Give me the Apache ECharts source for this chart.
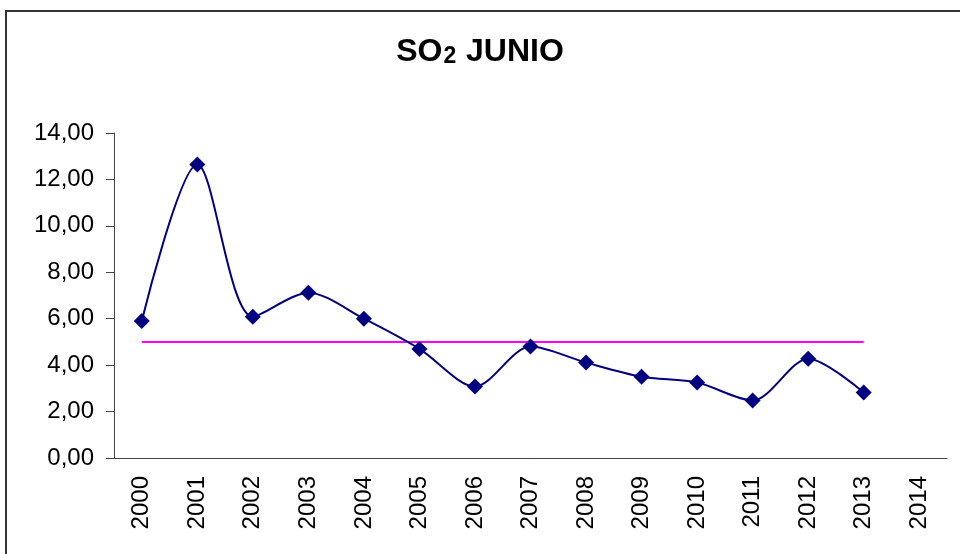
<!DOCTYPE html>
<html>
<head>
<meta charset="utf-8">
<script src="https://cdn.jsdelivr.net/npm/echarts@6/dist/echarts.min.js"></script>
<style>
  html, body { margin: 0; padding: 0; background: #fff; }
  #chart { width: 960px; height: 554px; }
</style>
</head>
<body>
<div id="chart"></div>
<script>
// años (eje X)
const years = ['2000', '2001', '2002', '2003', '2004', '2005', '2006', '2007',
  '2008', '2009', '2010', '2011', '2012', '2013', '2014'];
// SO2 junio
const so2 = [5.90, 12.64, 6.09, 7.12, 6.00, 4.70, 3.08, 4.80, 4.11, 3.50, 3.25, 2.48, 4.28, 2.82, null];
// línea de referencia
const limite = [5, 5, 5, 5, 5, 5, 5, 5, 5, 5, 5, 5, 5, 5, null];
// eje Y
const yMin = 0, yMax = 14, yStep = 2;

const font = '"Liberation Sans", Arial, sans-serif';
const chart = echarts.init(document.getElementById('chart'));

const option = {
  backgroundColor: '#fff',
  animation: false,
  title: {
    text: 'SO{sub|2} JUNIO',
    left: 'center',
    top: 31,
    textStyle: {
      fontFamily: font,
      fontSize: 32,
      fontWeight: 'bold',
      color: '#000',
      rich: {
        sub: { fontFamily: font, fontSize: 23, fontWeight: 'bold', color: '#000', verticalAlign: 'bottom', padding: [0, 1, 0, 1] }
      }
    }
  },
  graphic: [{
    type: 'rect',
    shape: { x: 6, y: 11, width: 1000, height: 600 },
    style: { fill: 'none', stroke: '#333', lineWidth: 2 },
    silent: true
  }],
  grid: { left: 114, right: 13, top: 133, bottom: 96 },
  xAxis: {
    type: 'category',
    data: years,
    boundaryGap: true,
    axisLine: { lineStyle: { color: '#444', width: 1 } },
    axisTick: { length: 8, lineStyle: { color: '#444' } },
    axisLabel: { rotate: 90, margin: 18, fontFamily: font, fontSize: 24, color: '#000' },
    splitLine: { show: false }
  },
  yAxis: {
    type: 'value',
    min: yMin,
    max: yMax,
    interval: yStep,
    axisLine: { show: true, lineStyle: { color: '#444', width: 1 } },
    axisTick: { show: true, length: 8, lineStyle: { color: '#444' } },
    axisLabel: {
      margin: 20, fontFamily: font, fontSize: 24, color: '#000',
      formatter: v => v.toFixed(2).replace('.', ',')
    },
    splitLine: { show: false }
  },
  series: [
    {
      name: 'Límite',
      type: 'line',
      data: limite,
      symbol: 'none',
      lineStyle: { color: '#ff00ff', width: 2 },
      z: 2
    },
    {
      name: 'SO2',
      type: 'line',
      data: so2,
      smooth: 0.3,
      symbol: 'diamond',
      symbolSize: 16,
      itemStyle: { color: '#000080' },
      lineStyle: { color: '#000080', width: 2 },
      z: 3
    }
  ]
};

chart.setOption(option);
</script>
</body>
</html>
